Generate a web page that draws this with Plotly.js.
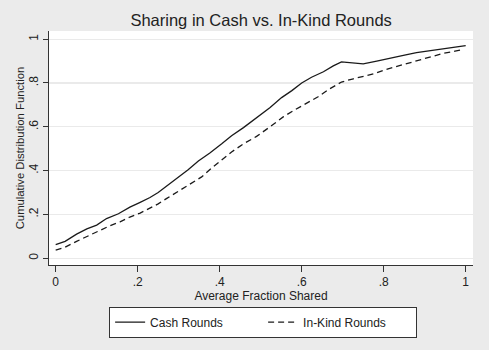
<!DOCTYPE html>
<html>
<head>
<meta charset="utf-8">
<script src="https://cdn.plot.ly/plotly-3.0.1.min.js"></script>
<style>html,body{margin:0;padding:0;background:#ebebeb;}#chart{width:489px;height:350px;}</style>
</head>
<body>
<div id="chart"></div>
<script>
const cashX = [0,0.023,0.051,0.076,0.1,0.124,0.153,0.181,0.206,0.23,0.25,0.271,0.295,0.323,0.348,0.376,0.405,0.429,0.458,0.49,0.523,0.551,0.576,0.6,0.624,0.653,0.677,0.697,0.726,0.75,0.783,0.815,0.848,0.88,0.913,0.945,0.978,1.0];
const cashY = [0.062,0.077,0.11,0.134,0.151,0.181,0.203,0.233,0.255,0.277,0.3,0.329,0.366,0.404,0.444,0.48,0.522,0.559,0.596,0.641,0.688,0.733,0.765,0.8,0.826,0.851,0.878,0.896,0.891,0.887,0.9,0.914,0.926,0.938,0.947,0.955,0.963,0.97];
const kindX = [0,0.023,0.051,0.076,0.104,0.132,0.157,0.181,0.206,0.23,0.25,0.271,0.299,0.328,0.356,0.38,0.405,0.429,0.458,0.49,0.523,0.555,0.584,0.612,0.64,0.669,0.697,0.726,0.75,0.775,0.803,0.832,0.86,0.889,0.917,0.945,0.974,0.993];
const kindY = [0.037,0.05,0.077,0.099,0.125,0.148,0.166,0.188,0.206,0.228,0.248,0.273,0.304,0.337,0.371,0.411,0.448,0.485,0.522,0.556,0.6,0.645,0.678,0.708,0.737,0.774,0.804,0.819,0.829,0.841,0.86,0.875,0.889,0.905,0.92,0.935,0.945,0.952];
const tickVals = [0,0.2,0.4,0.6,0.8,1];
const tickText = ["0",".2",".4",".6",".8","1"];
const seriesNames = ["Cash Rounds","In-Kind Rounds"];

const font = "Liberation Sans, Arial, sans-serif";
const traces = [
  {x: cashX, y: cashY, mode: "lines", name: seriesNames[0], line: {color: "#1a1a1a", width: 1.3, dash: "solid"}},
  {x: kindX, y: kindY, mode: "lines", name: seriesNames[1], line: {color: "#1a1a1a", width: 1.3, dash: "6px,4px"}}
];
const layout = {
  width: 489, height: 350,
  paper_bgcolor: "#ebebeb", plot_bgcolor: "#ffffff",
  margin: {l: 49, r: 16, t: 31, b: 79},
  font: {family: font, color: "#222"},
  title: {text: "Sharing in Cash vs. In-Kind Rounds", font: {size: 16.5, family: font, color: "#222"}, x: 0.534, xanchor: "center", y: 0.943, yanchor: "middle"},
  xaxis: {
    range: [-0.0163, 1.0178], tickvals: tickVals, ticktext: tickText,
    ticks: "outside", ticklen: 6, tickcolor: "#333", tickwidth: 1,
    showgrid: false, zeroline: false, showline: true, linecolor: "#333", linewidth: 1,
    tickfont: {size: 12, family: font, color: "#222"},
    title: {text: "Average Fraction Shared", font: {size: 12, family: font, color: "#222"}, standoff: 2}
  },
  yaxis: {
    range: [-0.031, 1.037], tickvals: tickVals, ticktext: tickText, tickangle: -90,
    ticks: "outside", ticklen: 5, tickcolor: "#333", tickwidth: 1,
    showgrid: true, gridcolor: "#eaeaea", gridwidth: 1.2, zeroline: false,
    showline: true, linecolor: "#333", linewidth: 1,
    tickfont: {size: 12, family: font, color: "#222"},
    title: {text: "Cumulative Distribution Function", font: {size: 11.3, family: font, color: "#222"}, standoff: 0}
  },
  showlegend: true,
  legend: {
    orientation: "h", x: 0.505, xanchor: "center", y: -0.178, yanchor: "top",
    bgcolor: "#ffffff", bordercolor: "#333", borderwidth: 1,
    font: {size: 12, family: font, color: "#222"},
    entrywidth: 108, entrywidthmode: "pixels"
  }
};
Plotly.newPlot("chart", traces, layout, {displayModeBar: false, staticPlot: true});
</script>
</body>
</html>
